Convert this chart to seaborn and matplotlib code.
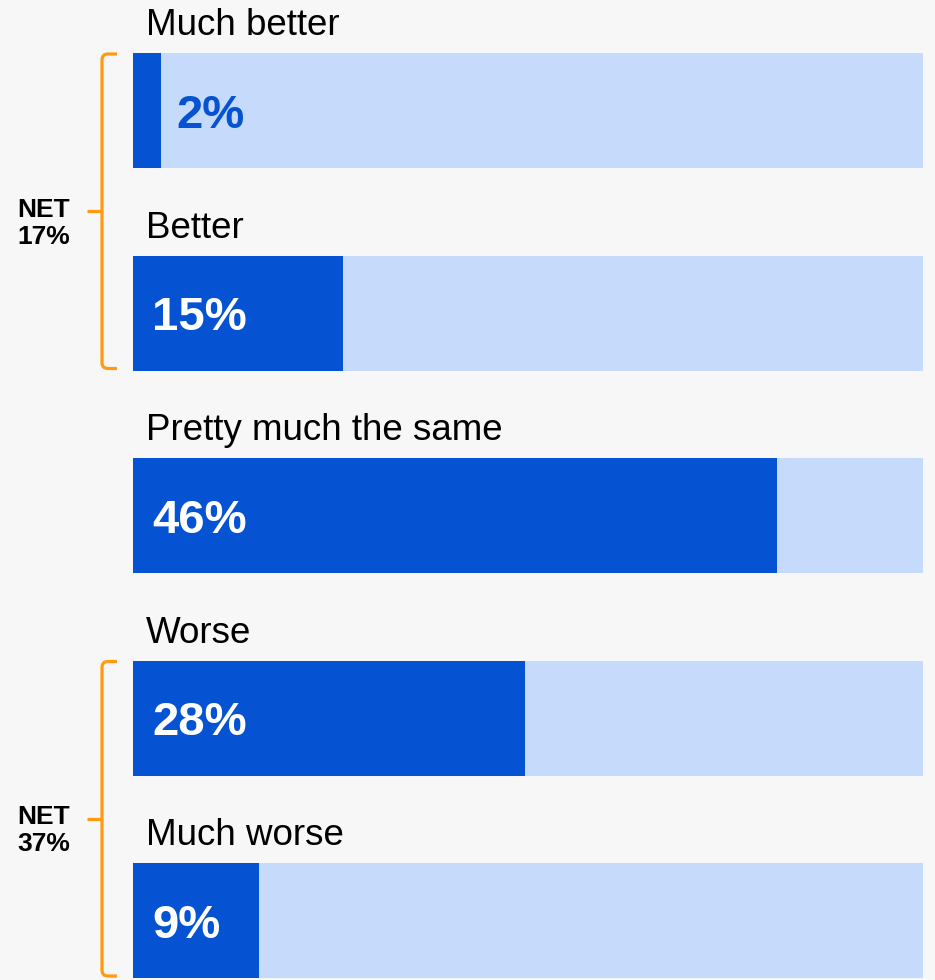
import pandas as pd
import matplotlib.pyplot as plt
import seaborn as sns
from matplotlib.path import Path
from matplotlib.patches import PathPatch

# Data
categories = ['Much better', 'Better', 'Pretty much the same', 'Worse', 'Much worse']
values = [2, 15, 46, 28, 9]
scale_max = 56.4  # light track length
net_labels = ['NET\n17%', 'NET\n37%']
net_groups = [(0, 1), (3, 4)]

dark = '#0553d3'
light = '#c6dafc'
bg = '#f7f7f7'
orange = '#ff9a12'

df = pd.DataFrame({'category': categories, 'value': values})
df['track'] = scale_max

sns.set_style('white')
plt.rcParams['font.family'] = ['Liberation Sans', 'DejaVu Sans']

fig = plt.figure(figsize=(9.35, 9.8), dpi=100, facecolor=bg)
ax = fig.add_axes([133 / 935, 0, 790 / 935, 1])
ax.set_facecolor(bg)

bar_w = 115 / 202.5
sns.barplot(data=df, x='track', y='category', order=categories, color=light,
            width=bar_w, saturation=1, linewidth=0, ax=ax, orient='h')
sns.barplot(data=df, x='value', y='category', order=categories, color=dark,
            width=bar_w, saturation=1, linewidth=0, ax=ax, orient='h')

# pixel -> data helpers
px_x = scale_max / 790
px_y = 1 / 202.5
ax.set_xlim(0, scale_max)
ax.set_ylim((980 - 110.5) * px_y, -110.5 * px_y)
ax.axis('off')

half = bar_w / 2
for i, (cat, v) in enumerate(zip(categories, values)):
    # category label above bar
    ax.text(13 * px_x, i - half - 18 * px_y, cat, fontsize=26.5, color='black',
            ha='left', va='baseline', clip_on=False)
    # value label
    if v >= 5:
        ax.text(19 * px_x, i + 17 * px_y, f'{v}%', fontsize=34, fontweight='bold',
                color='white', ha='left', va='baseline')
    else:
        ax.text(v + 15 * px_x, i + 17 * px_y, f'{v}%', fontsize=34, fontweight='bold',
                color=dark, ha='left', va='baseline')

# NET brackets
x_end = -16 * px_x
x_v = -31 * px_x
x_nub = -46 * px_x
rx = 6 * px_x
ry = 6 * px_y
for (a, b), lab in zip(net_groups, net_labels):
    top = a - half + 1 * px_y
    bot = b + half - 2 * px_y
    mid = (top + bot) / 2
    verts = [(x_end, top), (x_v + rx, top), (x_v, top), (x_v, top + ry),
             (x_v, bot - ry), (x_v, bot), (x_v + rx, bot), (x_end, bot)]
    codes = [Path.MOVETO, Path.LINETO, Path.CURVE3, Path.CURVE3,
             Path.LINETO, Path.CURVE3, Path.CURVE3, Path.LINETO]
    ax.add_patch(PathPatch(Path(verts, codes), fill=False, edgecolor=orange,
                           linewidth=2.3, clip_on=False, capstyle='butt'))
    ax.plot([x_nub, x_v], [mid, mid], color=orange, linewidth=2.3,
            solid_capstyle='butt', clip_on=False)
    ax.text(-116 * px_x, mid + 12 * px_y, lab, fontsize=19, fontweight='bold',
            color='black', ha='left', va='center', linespacing=1.15, clip_on=False)

plt.savefig('out.png', dpi=100, facecolor=bg)
